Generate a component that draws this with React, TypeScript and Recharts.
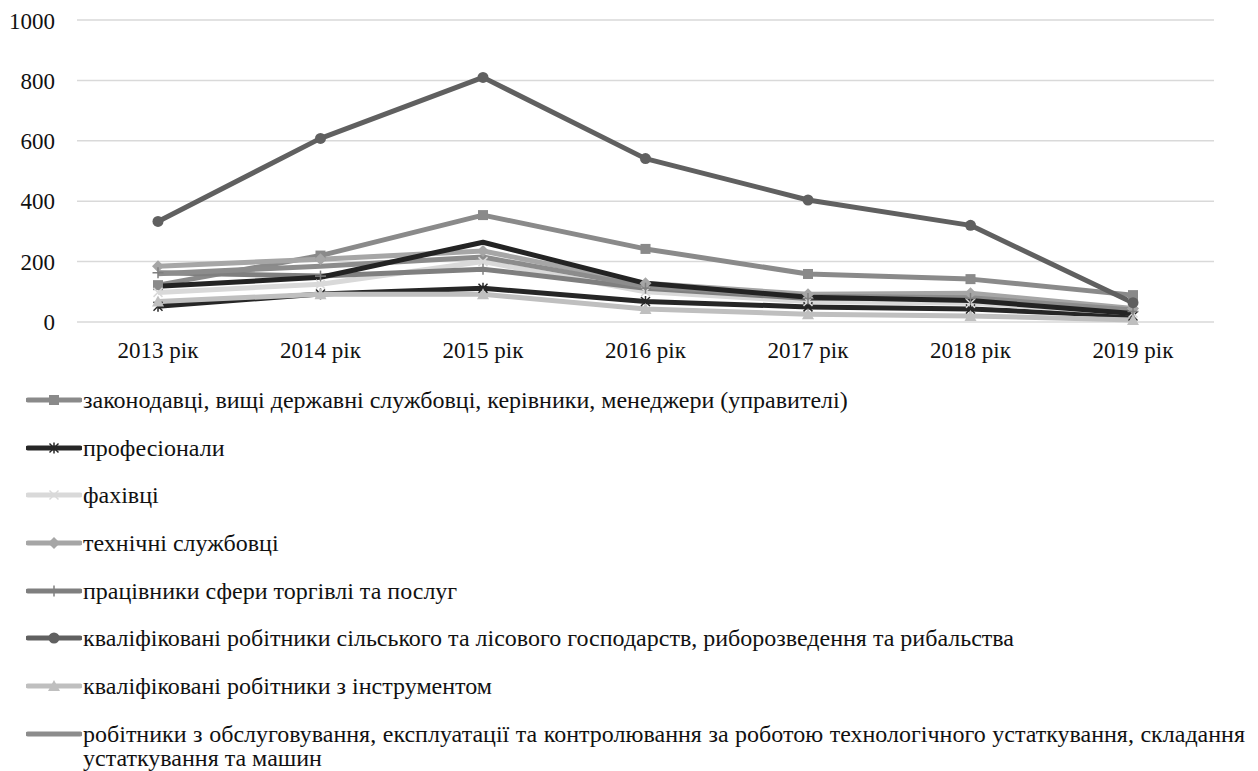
import React from "react";
import { LineChart, Line, XAxis, YAxis, CartesianGrid } from "recharts";

const years = ["2013 рік", "2014 рік", "2015 рік", "2016 рік", "2017 рік", "2018 рік", "2019 рік"];

const legislators = [122, 220, 354, 242, 159, 142, 89];
const professionals = [52, 93, 112, 68, 50, 43, 20];
const specialists = [98, 125, 200, 100, 68, 62, 30];
const clerks = [185, 208, 235, 128, 92, 95, 45];
const tradeWorkers = [163, 152, 175, 112, 78, 78, 35];
const agriWorkers = [333, 608, 810, 541, 404, 320, 64];
const craftWorkers = [68, 92, 92, 43, 26, 20, 7];
const operators = [160, 185, 215, 118, 85, 80, 40];
const elementary = [118, 148, 264, 128, 82, 71, 28];

const yTicks = [0, 200, 400, 600, 800, 1000];

type Shape = "square" | "star" | "x" | "diamond" | "plus" | "circle" | "triangle" | "none";

type Series = {
  key: string;
  name: string;
  values: number[];
  color: string;
  shape: Shape;
  inLegend: boolean;
};

const series: Series[] = [
  { key: "s1", name: "законодавці, вищі державні службовці, керівники, менеджери (управителі)", values: legislators, color: "#8a8a8a", shape: "square", inLegend: true },
  { key: "s2", name: "професіонали", values: professionals, color: "#262626", shape: "star", inLegend: true },
  { key: "s3", name: "фахівці", values: specialists, color: "#d9d9d9", shape: "x", inLegend: true },
  { key: "s4", name: "технічні службовці", values: clerks, color: "#a6a6a6", shape: "diamond", inLegend: true },
  { key: "s5", name: "працівники сфери торгівлі та послуг", values: tradeWorkers, color: "#7f7f7f", shape: "plus", inLegend: true },
  { key: "s6", name: "кваліфіковані робітники сільського та лісового господарств, риборозведення та рибальства", values: agriWorkers, color: "#606060", shape: "circle", inLegend: true },
  { key: "s7", name: "кваліфіковані робітники з інструментом", values: craftWorkers, color: "#bfbfbf", shape: "triangle", inLegend: true },
  { key: "s8", name: "робітники з обслуговування, експлуатації та контролювання за роботою технологічного устаткування, складання устаткування та машин", values: operators, color: "#8c8c8c", shape: "none", inLegend: true },
  { key: "s9", name: "найпростіші професії", values: elementary, color: "#232323", shape: "none", inLegend: false },
];

const rows = years.map((year, i) => {
  const row: Record<string, string | number> = { year };
  series.forEach((s) => {
    row[s.key] = s.values[i];
  });
  return row;
});

const FONT = "Liberation Serif";

function Marker({ shape, cx, cy, color }: { shape: Shape; cx: number; cy: number; color: string }) {
  switch (shape) {
    case "square":
      return <rect x={cx - 5} y={cy - 5} width={10} height={10} fill={color} />;
    case "circle":
      return <circle cx={cx} cy={cy} r={5.5} fill={color} />;
    case "diamond":
      return <polygon points={`${cx},${cy - 6} ${cx + 6},${cy} ${cx},${cy + 6} ${cx - 6},${cy}`} fill={color} />;
    case "triangle":
      return <polygon points={`${cx},${cy - 6} ${cx + 6},${cy + 5} ${cx - 6},${cy + 5}`} fill={color} />;
    case "x":
      return (
        <g stroke={color} strokeWidth={1.5}>
          <line x1={cx - 4.5} y1={cy - 4.5} x2={cx + 4.5} y2={cy + 4.5} />
          <line x1={cx - 4.5} y1={cy + 4.5} x2={cx + 4.5} y2={cy - 4.5} />
        </g>
      );
    case "star":
      return (
        <g stroke={color} strokeWidth={1.5}>
          <line x1={cx - 4.5} y1={cy - 4.5} x2={cx + 4.5} y2={cy + 4.5} />
          <line x1={cx - 4.5} y1={cy + 4.5} x2={cx + 4.5} y2={cy - 4.5} />
          <line x1={cx} y1={cy - 5.5} x2={cx} y2={cy + 5.5} />
        </g>
      );
    case "plus":
      return (
        <g stroke={color} strokeWidth={1.5}>
          <line x1={cx - 5.5} y1={cy} x2={cx + 5.5} y2={cy} />
          <line x1={cx} y1={cy - 5.5} x2={cx} y2={cy + 5.5} />
        </g>
      );
    default:
      return null;
  }
}

function LegendIcon({ s }: { s: Series }) {
  return (
    <svg width={56} height={24} style={{ flex: "0 0 auto", display: "block" }}>
      <line x1={2} y1={12} x2={54} y2={12} stroke={s.color} strokeWidth={5} strokeLinecap="round" />
      <Marker shape={s.shape} cx={28} cy={12} color={s.color} />
    </svg>
  );
}

export default function App() {
  return (
    <div
      style={{
        position: "fixed",
        left: 0,
        top: 0,
        width: 1258,
        height: 771,
        overflow: "hidden",
        background: "#fff",
        fontFamily: FONT,
      }}
    >
      <div style={{ position: "absolute", left: 8, top: 8 }}>
        <LineChart width={1250} height={364} data={rows} margin={{ top: 12, right: 44, bottom: 0, left: 0 }}>
          <CartesianGrid vertical={false} stroke="#d9d9d9" strokeWidth={1.5} />
          <XAxis
            dataKey="year"
            axisLine={false}
            tickLine={false}
            height={50}
            padding={{ left: 81, right: 81 }}
            tickMargin={14}
            interval={0}
            tick={{ fill: "#111", fontSize: 23, fontFamily: FONT }}
          />
          <YAxis
            width={69}
            domain={[0, 1000]}
            ticks={yTicks}
            axisLine={false}
            tickLine={false}
            tickMargin={16}
            tick={{ fill: "#111", fontSize: 23, fontFamily: FONT }}
          />
          {series.map((s) => (
            <Line
              key={s.key}
              dataKey={s.key}
              name={s.name}
              type="linear"
              stroke={s.color}
              strokeWidth={5}
              strokeLinejoin="round"
              isAnimationActive={false}
              activeDot={false}
              dot={
                s.shape === "none"
                  ? false
                  : (p: any) => (
                      <Marker key={`${s.key}-${p.index}`} shape={s.shape} cx={p.cx} cy={p.cy} color={s.color} />
                    )
              }
            />
          ))}
        </LineChart>
      </div>

      {/* legend: the last (9th) series is left out, as in the source layout */}
      <div style={{ position: "absolute", left: 26, top: 388, width: 1220 }}>
        {series
          .filter((s) => s.inLegend)
          .map((s) => (
            <div key={s.key} style={{ display: "flex", alignItems: "flex-start", marginBottom: 23.7 }}>
              <LegendIcon s={s} />
              <div
                style={{
                  marginLeft: 1,
                  width: 1162,
                  fontSize: 24,
                  lineHeight: "24px",
                  color: "#111",
                  textAlign: "justify",
                }}
              >
                {s.name}
              </div>
            </div>
          ))}
      </div>
    </div>
  );
}
